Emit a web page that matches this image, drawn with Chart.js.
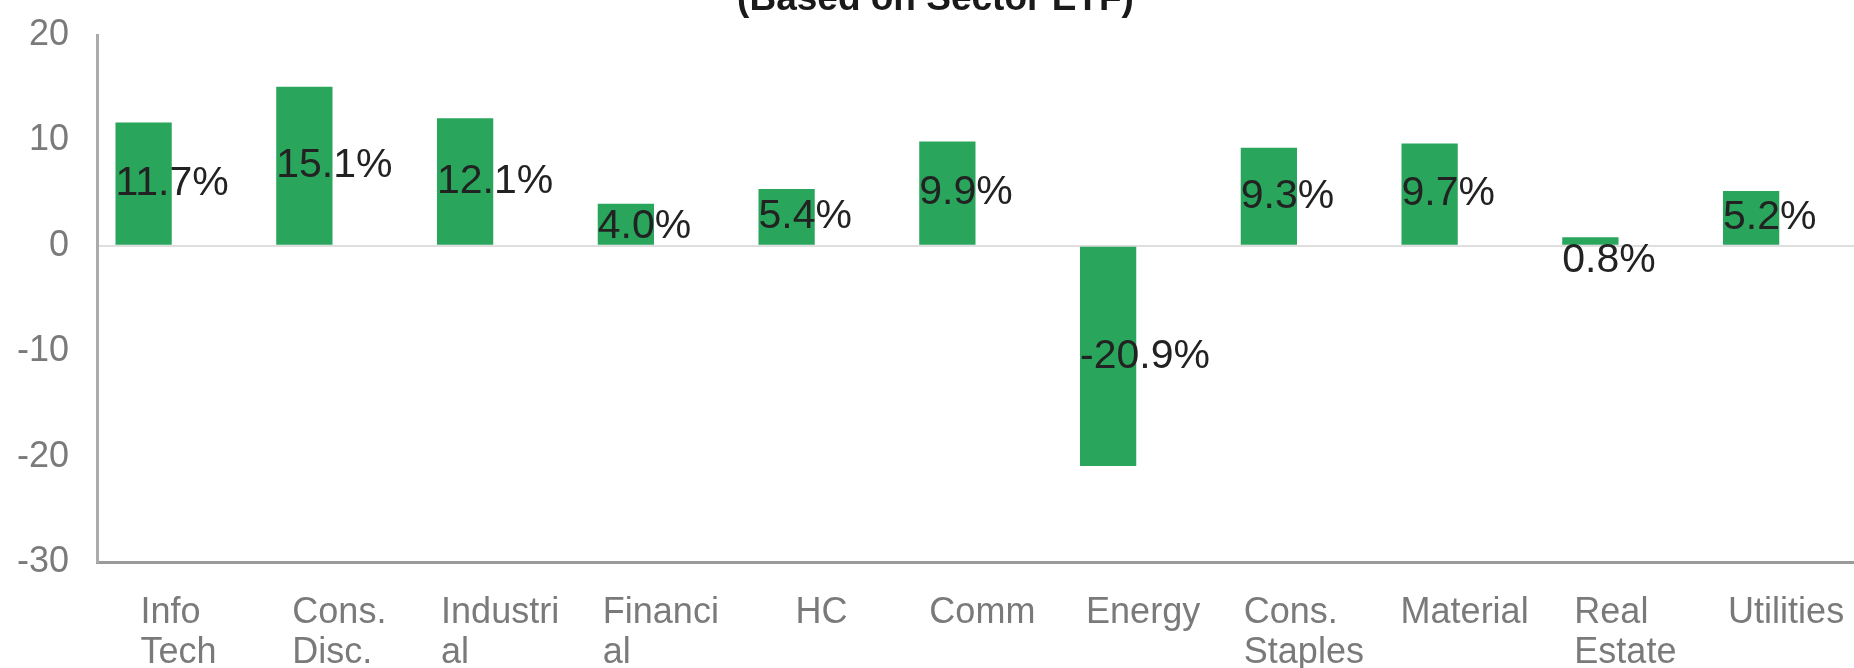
<!DOCTYPE html>
<html>
<head>
<meta charset="utf-8">
<title>Sector Returns</title>
<script src="https://cdn.jsdelivr.net/npm/chart.js@4.4.1/dist/chart.umd.min.js"></script>
<style>
  html, body { margin: 0; padding: 0; background: #fff; overflow: hidden; }
  #wrap { position: relative; width: 1854px; height: 668px; overflow: hidden; }
  #sectorChart { position: absolute; left: 0; top: -40px; }
</style>
</head>
<body>
<div id="wrap">
  <canvas id="sectorChart" width="1854" height="708"></canvas>
</div>
<script>
// 섹터 이름 (줄바꿈은 원본 그대로)
const sectors = [
  ['Info', 'Tech'], ['Cons.', 'Disc.'], ['Industri', 'al'], ['Financi', 'al'],
  'HC', 'Comm', 'Energy', ['Cons.', 'Staples'], 'Material', ['Real', 'Estate'], 'Utilities'
];
// 수익률 (%)
const returns = [11.7, 15.1, 12.1, 4.0, 5.4, 9.9, -20.9, 9.3, 9.7, 0.8, 5.2];
// y축 눈금
const yTicks = [-30, -20, -10, 0, 10, 20];

const FONT = '"Liberation Sans", Arial, sans-serif';

// 막대 위 값 라벨
const barLabels = {
  id: 'barLabels',
  afterDatasetsDraw(chart) {
    const ctx = chart.ctx;
    const meta = chart.getDatasetMeta(0);
    ctx.save();
    ctx.font = '41px ' + FONT;
    ctx.fillStyle = '#222222';
    ctx.textAlign = 'left';
    ctx.textBaseline = 'middle';
    meta.data.forEach((bar, i) => {
      const v = returns[i];
      const left = bar.x - bar.width / 2;
      let cy = (bar.y + bar.base) / 2;
      // 막대가 너무 짧으면 라벨을 아래로
      if (v >= 0) cy = Math.max(cy, bar.y + 23);
      ctx.fillText(v.toFixed(1) + '%', left, cy);
    });
    ctx.restore();
  }
};

// x축 라벨: 여러 줄을 왼쪽 정렬하고 블록은 가운데에
const xLabelAlign = {
  id: 'xLabelAlign',
  beforeDraw(chart) {
    const scale = chart.scales.x;
    const ctx = chart.ctx;
    const items = scale.getLabelItems();
    ctx.save();
    items.forEach(item => {
      ctx.font = item.font.string;
      const lines = [].concat(item.label);
      const w = Math.max(...lines.map(l => ctx.measureText(l).width));
      item.options.textAlign = 'left';
      item.options.translation[0] -= w / 2;
    });
    ctx.restore();
  }
};

new Chart(document.getElementById('sectorChart'), {
  type: 'bar',
  data: {
    datasets: [{
      data: returns.map((v, i) => ({ x: i, y: v })),
      backgroundColor: '#29a55c',
      borderWidth: 0,
      barPercentage: 0.35,
      categoryPercentage: 1
    }]
  },
  options: {
    responsive: false,
    animation: false,
    devicePixelRatio: 1,
    layout: { padding: { left: 17, right: 0, top: 0, bottom: 0 } },
    plugins: {
      legend: { display: false },
      tooltip: { enabled: false },
      title: {
        display: true,
        text: '(Based on Sector ETF)',
        color: '#1a1a1a',
        font: { family: FONT, size: 37, weight: 'bold', lineHeight: 1.2 },
        padding: { top: 18, bottom: 12.6 }
      }
    },
    scales: {
      x: {
        type: 'linear',
        offset: false,
        min: -0.29,
        max: 10.64,
        afterBuildTicks(scale) {
          scale.ticks = sectors.map((_, i) => ({ value: i }));
        },
        afterFit(scale) { scale.height = 106; },
        grid: { display: false, drawTicks: false },
        border: { display: true, color: '#9a9a9a', width: 3 },
        ticks: {
          color: '#7a7a7a',
          font: { family: FONT, size: 36, lineHeight: 1.12 },
          padding: 31,
          labelOffset: 35,
          maxRotation: 0,
          autoSkip: false,
          callback: (v) => sectors[v]
        }
      },
      y: {
        min: -30,
        max: 20,
        afterBuildTicks(scale) {
          scale.ticks = yTicks.map(v => ({ value: v }));
        },
        afterFit(scale) { scale.width = 80; },
        grid: {
          drawTicks: false,
          lineWidth: 2,
          color: (c) => (c.tick && c.tick.value === 0 ? '#dedede' : 'rgba(0,0,0,0)')
        },
        border: { display: true, color: '#ababab', width: 3 },
        ticks: {
          color: '#7a7a7a',
          font: { family: FONT, size: 36 },
          padding: 28
        }
      }
    }
  },
  plugins: [barLabels, xLabelAlign]
});
</script>
</body>
</html>
